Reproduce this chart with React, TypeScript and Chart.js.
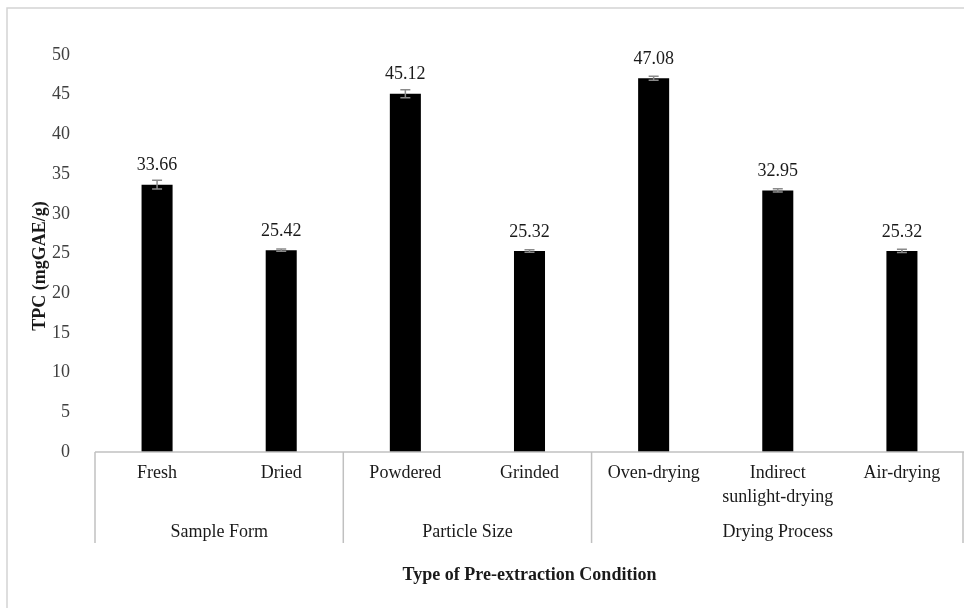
import React, { useEffect, useRef } from "react";
import { Chart, registerables } from "chart.js";

Chart.register(...registerables);

const categories: string[][] = [
  ["Fresh"],
  ["Dried"],
  ["Powdered"],
  ["Grinded"],
  ["Oven-drying"],
  ["Indirect", "sunlight-drying"],
  ["Air-drying"],
];
const groupNames = ["Sample Form", "Particle Size", "Drying Process"];
const groupSizes = [2, 2, 3];
const tpcValues = [33.66, 25.42, 45.12, 25.32, 47.08, 32.95, 25.32];
const tpcErrors = [0.55, 0.15, 0.5, 0.15, 0.25, 0.2, 0.2];
const yMin = 0;
const yMax = 50;
const yStep = 5;
const yTitle = "TPC (mgGAE/g)";
const xTitle = "Type of Pre-extraction Condition";

const FONT = "'Liberation Serif', 'Times New Roman', serif";

const decorPlugin = {
  id: "decor",
  beforeDraw(chart: any) {
    const ctx = chart.ctx;
    ctx.save();
    ctx.fillStyle = "#ffffff";
    ctx.fillRect(0, 0, chart.width, chart.height);
    ctx.strokeStyle = "#d4d4d4";
    ctx.lineWidth = 1.5;
    ctx.strokeRect(7, 8, chart.width + 10, chart.height + 10);
    ctx.restore();
  },
  afterDatasetsDraw(chart: any) {
    const ctx = chart.ctx;
    const x = chart.scales.x;
    const y = chart.scales.y;
    const area = chart.chartArea;
    ctx.save();

    // error bars + value labels
    tpcValues.forEach((v, i) => {
      const cx = x.getPixelForValue(i);
      const e = tpcErrors[i];
      const yt = y.getPixelForValue(v + e);
      const yb = y.getPixelForValue(v - e);
      ctx.strokeStyle = "#8a8a8a";
      ctx.lineWidth = 1.5;
      ctx.beginPath();
      ctx.moveTo(cx, yt);
      ctx.lineTo(cx, yb);
      ctx.moveTo(cx - 5, yt);
      ctx.lineTo(cx + 5, yt);
      ctx.moveTo(cx - 5, yb);
      ctx.lineTo(cx + 5, yb);
      ctx.stroke();

      ctx.fillStyle = "#1a1a1a";
      ctx.font = `18px ${FONT}`;
      ctx.textAlign = "center";
      ctx.textBaseline = "middle";
      ctx.fillText(v.toFixed(2), cx, y.getPixelForValue(v) - 19);
    });

    // x axis line
    const axisY = area.bottom;
    ctx.strokeStyle = "#c0c0c0";
    ctx.lineWidth = 1.5;
    ctx.beginPath();
    ctx.moveTo(area.left, axisY);
    ctx.lineTo(area.right, axisY);
    ctx.stroke();

    // category labels
    ctx.fillStyle = "#1a1a1a";
    ctx.font = `18px ${FONT}`;
    ctx.textAlign = "center";
    ctx.textBaseline = "middle";
    categories.forEach((lines, i) => {
      const cx = x.getPixelForValue(i);
      lines.forEach((ln, j) => {
        ctx.fillText(ln, cx, axisY + 21 + j * 24);
      });
    });

    // group separators and labels
    const half = (x.getPixelForValue(1) - x.getPixelForValue(0)) / 2;
    let start = 0;
    const sepBottom = axisY + 91;
    const drawSep = (px: number) => {
      ctx.beginPath();
      ctx.moveTo(px, axisY);
      ctx.lineTo(px, sepBottom);
      ctx.stroke();
    };
    ctx.strokeStyle = "#c0c0c0";
    drawSep(x.getPixelForValue(0) - half);
    groupSizes.forEach((n, g) => {
      const l = x.getPixelForValue(start) - half;
      const r = x.getPixelForValue(start + n - 1) + half;
      drawSep(Math.min(r, chart.width - 1));
      ctx.fillText(groupNames[g], (l + r) / 2, axisY + 80);
      start += n;
    });

    // axis titles
    ctx.font = `bold 18px ${FONT}`;
    ctx.fillStyle = "#1a1a1a";
    ctx.fillText(xTitle, (area.left + area.right) / 2, 575);
    ctx.save();
    ctx.translate(40, 266);
    ctx.rotate(-Math.PI / 2);
    ctx.fillText(yTitle, 0, 0);
    ctx.restore();

    ctx.restore();
  },
};

export default function App() {
  const ref = useRef<HTMLCanvasElement | null>(null);
  useEffect(() => {
    if (!ref.current) return;
    const chart = new Chart(ref.current, {
      type: "bar",
      data: {
        labels: categories.map((c) => c.join(" ")),
        datasets: [
          {
            data: tpcValues,
            backgroundColor: "#000000",
            borderWidth: 0,
            barPercentage: 0.25,
            categoryPercentage: 1,
          },
        ],
      },
      options: {
        animation: false,
        responsive: false,
        maintainAspectRatio: false,
        layout: { padding: { top: 55, left: 0, right: 0, bottom: 0 } },
        plugins: {
          legend: { display: false },
          tooltip: { enabled: false },
          title: { display: false },
        },
        scales: {
          x: {
            type: "category",
            offset: true,
            grid: { display: false },
            border: { display: false },
            ticks: { display: false },
            afterFit: (s: any) => {
              s.height = 608 - 452;
            },
          },
          y: {
            min: yMin,
            max: yMax,
            grid: { display: false },
            border: { display: false },
            ticks: {
              stepSize: yStep,
              padding: 17,
              color: "#404040",
              font: { family: FONT, size: 18 },
            },
            afterFit: (s: any) => {
              s.width = 95;
            },
          },
        },
      },
      plugins: [decorPlugin],
    } as any);
    return () => chart.destroy();
  }, []);
  return (
    <div
      style={{
        position: "fixed",
        left: 0,
        top: 0,
        width: 964,
        height: 608,
        background: "#fff",
      }}
    >
      <canvas ref={ref} width={964} height={608} style={{ display: "block" }} />
    </div>
  );
}
